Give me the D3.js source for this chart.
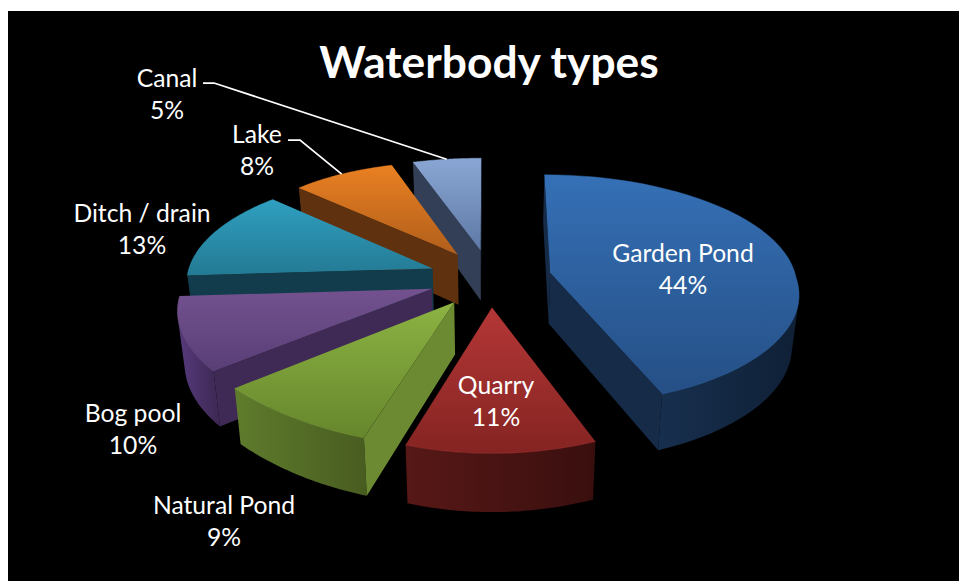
<!DOCTYPE html>
<html>
<head>
<meta charset="utf-8">
<script src="https://cdn.jsdelivr.net/npm/d3@7"></script>
<style>
  html, body { margin: 0; padding: 0; background: #fff; overflow: hidden; }
  svg { display: block; }
  text { font-family: Lato, "Open Sans", sans-serif; fill: #fff; }
</style>
</head>
<body>
<svg id="chart" width="959" height="581"></svg>
<script>
// Share of each waterbody type, clockwise from twelve o'clock.
const categories = ["Garden Pond", "Quarry", "Natural Pond", "Bog pool", "Ditch / drain", "Lake", "Canal"];
const shares = [44, 11, 9, 10, 13, 8, 5];

// Fill colours per slice: top face gradient, cut face, outer wall gradient.
const topColors = [["#3570b6", "#254f85"], ["#b43736", "#842422"], ["#8cb343", "#66862c"], ["#73528f", "#593e76"], ["#2f9fc0", "#247a94"], ["#ea8022", "#b05e1b"], ["#8aa6d4", "#5e79a5"]];
const cutColors = ["#162b48", "#4f1614", "#6b8a31", "#3f2a55", "#123c4b", "#5f310f", "#333f56"];
const wallColors = [["#172f4e", "#0f2036"], ["#571817", "#390f0e"], ["#5f7c2c", "#485c20"], ["#573a7c", "#3c2852"], ["#123c4b", "#123c4b"], ["#5f310f", "#5f310f"], ["#333f56", "#333f56"]];

// Label anchors: centre x and first baseline, plus the elbow of the leader where one exists.
const labelX = [683, 496, 224, 133, 142, 257, 167];
const labelY = [262, 394, 514, 422, 222, 143, 87];
const leaderElbows = [null, null, null, null, null, [[288, 140], [300, 140]], [[203, 83], [214, 83]]];

const width = 959, height = 581;
const panel = { x: 8, y: 11 };

// Camera: disc radius in pixels, foreshortening, perspective strength, slice thickness.
const centre = { x: 490, y: 278 };
const radiusX = 246, radiusY = 114, perspective = 0.15;
const thickness = 51, baseShrink = 0.977, explode = 0.25;

// Horizontal magnification by plan depth; it levels off towards the near and far rims.
const widthByDepth = d3.scaleLinear().domain([-0.9, 0, 0.85]).range([0.9, 1, 1.14]).clamp(true);

const svg = d3.select("#chart");
svg.append("rect").attr("x", panel.x).attr("y", panel.y)
  .attr("width", width - panel.x).attr("height", height - panel.y).attr("fill", "#000");

const defs = svg.append("defs");
function gradient(id, colors, vertical) {
  const g = defs.append("linearGradient").attr("id", id)
    .attr("x1", 0).attr("y1", 0).attr("x2", vertical ? 0 : 1).attr("y2", vertical ? 1 : 0);
  g.append("stop").attr("offset", 0).attr("stop-color", colors[0]);
  g.append("stop").attr("offset", 1).attr("stop-color", colors[1]);
}

// Plan coordinates to the screen, for the top surface of the disc.
function project([px, py]) {
  const s = 1 / (1 - perspective * py);
  return [centre.x + radiusX * px * widthByDepth(py), centre.y + radiusY * py * s];
}
// The same plan point on the underside: verticals lean towards the centre.
function projectBase([px, py]) {
  const s = 1 / (1 - perspective * py);
  const [sx, sy] = project([px, py]);
  return [centre.x + (sx - centre.x) * baseShrink, centre.y + (sy - centre.y) * baseShrink + thickness * s];
}

const polyArea = pts => d3.polygonArea(pts); // positive means anticlockwise on a y-down screen
const closed = d3.line().curve(d3.curveLinear);
const toPath = pts => closed(pts) + "Z";

const arcs = d3.pie().sort(null).value(d => d)(shares);

const slices = arcs.map((a, i) => {
  const mid = (a.startAngle + a.endAngle) / 2;
  const ox = explode * Math.sin(mid), oy = -explode * Math.cos(mid);
  const steps = d3.range(0, 49).map(k => a.startAngle + (a.endAngle - a.startAngle) * k / 48);
  const rim = steps.map(t => [ox + Math.sin(t), oy - Math.cos(t)]);
  return { i, mid, ox, oy, apex: [ox, oy], rim };
});

// Far slices first so that nearer ones paint over them.
const ordered = slices.slice().sort((a, b) => a.oy - b.oy);

const pieGroup = svg.append("g");
ordered.forEach(sl => {
  const i = sl.i;
  const g = pieGroup.append("g");
  gradient("top" + i, topColors[i], true);
  gradient("wall" + i, wallColors[i], false);

  const topRim = sl.rim.map(project);
  const baseRim = sl.rim.map(projectBase);
  const apexTop = project(sl.apex), apexBase = projectBase(sl.apex);

  // Outer wall: only the run of rim segments that face the viewer.
  const front = [];
  for (let k = 0; k < topRim.length - 1; k++) {
    if (polyArea([topRim[k], topRim[k + 1], baseRim[k + 1], baseRim[k]]) > 0) front.push(k);
  }
  if (front.length) {
    const from = front[0], to = front[front.length - 1] + 1;
    const pts = topRim.slice(from, to + 1).concat(baseRim.slice(from, to + 1).reverse());
    g.append("path").attr("d", toPath(pts)).attr("fill", `url(#wall${i})`);
  }

  // Cut faces along the two straight edges of the wedge.
  const last = topRim.length - 1;
  const startFace = [apexTop, topRim[0], baseRim[0], apexBase];
  const endFace = [apexTop, topRim[last], baseRim[last], apexBase];
  if (polyArea(startFace) > 0) g.append("path").attr("d", toPath(startFace)).attr("fill", cutColors[i]);
  if (polyArea(endFace) < 0) g.append("path").attr("d", toPath(endFace)).attr("fill", cutColors[i]);

  // Top face and its soft bevel along the rim.
  g.append("path").attr("d", toPath([apexTop].concat(topRim))).attr("fill", `url(#top${i})`);
  g.append("path").attr("d", closed(topRim)).attr("fill", "none")
    .attr("stroke", topColors[i][0]).attr("stroke-width", 1).attr("stroke-opacity", 0.45);
});

// Leader lines run from the label elbow to the middle of the slice's rim.
slices.forEach(sl => {
  const elbow = leaderElbows[sl.i];
  if (!elbow) return;
  const end = project([sl.ox + Math.sin(sl.mid), sl.oy - Math.cos(sl.mid)]);
  svg.append("path").attr("d", d3.line()(elbow.concat([end])))
    .attr("fill", "none").attr("stroke", "#fff").attr("stroke-width", 1.75);
});

svg.append("text").attr("x", 489).attr("y", 78).attr("text-anchor", "middle")
  .attr("font-size", 44.3).attr("font-weight", 700).text("Waterbody types");

const labels = svg.append("g").attr("text-anchor", "middle").attr("font-size", 24.7);
categories.forEach((name, i) => {
  labels.append("text").attr("x", labelX[i]).attr("y", labelY[i]).text(name);
  labels.append("text").attr("x", labelX[i]).attr("y", labelY[i] + 32).text(shares[i] + "%");
});
</script>
</body>
</html>
